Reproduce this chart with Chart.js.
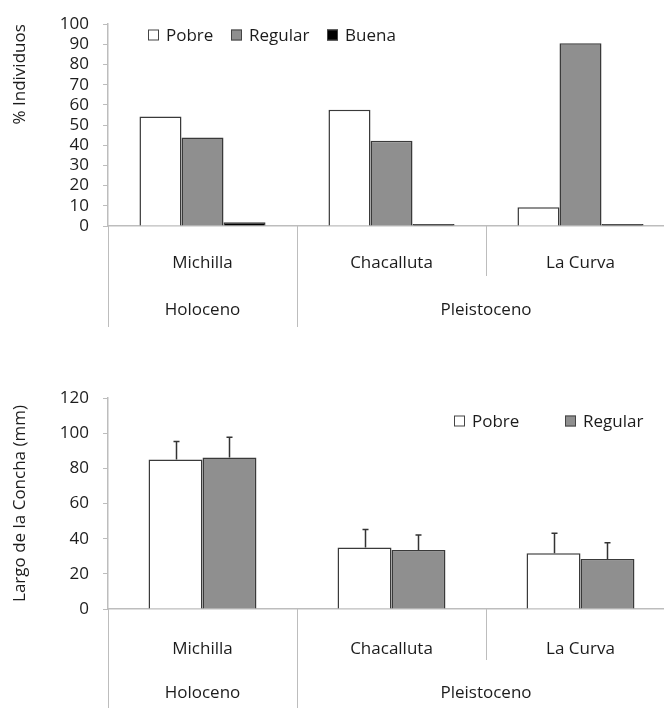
<!DOCTYPE html>
<html lang="es">
<head>
<meta charset="utf-8">
<title>Condición y largo de la concha por localidad</title>
<script src="https://cdn.jsdelivr.net/npm/chart.js@4.4.1/dist/chart.umd.min.js"></script>
<style>
  html, body { margin: 0; padding: 0; background: #ffffff; overflow: hidden; }
  body { width: 664px; height: 708px; position: relative; }
  .panel { position: absolute; left: 0; }
  #panelA { top: 0; }
  #panelB { top: 354px; }
</style>
</head>
<body>
<div class="panel" id="panelA"><canvas id="condicion" width="680" height="354"></canvas></div>
<div class="panel" id="panelB"><canvas id="largo" width="680" height="354"></canvas></div>
<script>
// Localidades y periodos geológicos
const localidades = ['Michilla', 'Chacalluta', 'La Curva'];
const periodos = ['Holoceno', 'Pleistoceno'];
const localidadesPorPeriodo = [1, 2];

// % de individuos por condición
const pctPobre = [54.3, 57.6, 9.3];
const pctRegular = [43.9, 42.2, 90.5];
const pctBuena = [1.8, 0.2, 0.2];

// Largo medio de la concha (mm) y su desviación
const largoPobre = [85.0, 35.0, 31.7];
const largoPobreDE = [10.2, 10.2, 11.4];
const largoRegular = [86.1, 33.6, 28.4];
const largoRegularDE = [11.6, 8.5, 9.3];

// Marcas de los ejes
const ticksPct = [0, 10, 20, 30, 40, 50, 60, 70, 80, 90, 100];
const ticksLargo = [0, 20, 40, 60, 80, 100, 120];

const FONT = '"Open Sans", "DejaVu Sans", sans-serif';
const TEXT = '#1c1c1c';
const AXIS = '#bdbdbd';
const EDGE = '#3a3a3a';
const WHITE = '#ffffff';
const GREY = '#8f8f8f';
const BLACK = '#000000';

// Etiquetas de periodo y líneas divisorias bajo el eje x
const periodAxis = {
  id: 'periodAxis',
  afterDraw(chart, args, opts) {
    const x = chart.scales.x;
    const ctx = chart.ctx;
    const axisY = chart.chartArea.bottom;
    const n = x.getLabels().length;
    const half = (x.getPixelForValue(1) - x.getPixelForValue(0)) / 2;
    const edgeAt = i => x.getPixelForValue(i) - half;
    const groupEdges = [0];
    localidadesPorPeriodo.forEach(c => groupEdges.push(groupEdges[groupEdges.length - 1] + c));
    ctx.save();
    ctx.strokeStyle = AXIS;
    ctx.lineWidth = 1;
    for (let i = 0; i <= n; i++) {
      const px = Math.round(edgeAt(i)) + 0.5;
      const len = groupEdges.includes(i) ? opts.longLine : opts.shortLine;
      ctx.beginPath();
      ctx.moveTo(px, axisY);
      ctx.lineTo(px, axisY + len);
      ctx.stroke();
    }
    ctx.fillStyle = TEXT;
    ctx.font = '17px ' + FONT;
    ctx.textAlign = 'center';
    ctx.textBaseline = 'middle';
    periodos.forEach((p, g) => {
      const cx = (edgeAt(groupEdges[g]) + edgeAt(groupEdges[g + 1])) / 2;
      ctx.fillText(p, cx, axisY + opts.labelOffset);
    });
    ctx.restore();
  }
};

// Leyenda con cuadros, colocada dentro del área del gráfico
const boxLegend = {
  id: 'boxLegend',
  afterDraw(chart, args, opts) {
    const ctx = chart.ctx;
    ctx.save();
    ctx.font = '17px ' + FONT;
    ctx.textBaseline = 'middle';
    ctx.textAlign = 'left';
    chart.data.datasets.forEach((ds, i) => {
      const bx = opts.xs[i];
      const by = opts.y - opts.box / 2;
      ctx.fillStyle = ds.backgroundColor;
      ctx.fillRect(bx, by, opts.box, opts.box);
      ctx.strokeStyle = '#444444';
      ctx.lineWidth = 1;
      ctx.strokeRect(bx + 0.5, by + 0.5, opts.box - 1, opts.box - 1);
      ctx.fillStyle = TEXT;
      ctx.fillText(ds.label, bx + opts.box + 7, opts.y + 1);
    });
    ctx.restore();
  }
};

// Barras de error (solo hacia arriba)
const errorBars = {
  id: 'errorBars',
  afterDatasetsDraw(chart) {
    const ctx = chart.ctx;
    const y = chart.scales.y;
    ctx.save();
    ctx.strokeStyle = '#333333';
    ctx.lineWidth = 1.5;
    chart.data.datasets.forEach((ds, di) => {
      if (!ds.errors) return;
      chart.getDatasetMeta(di).data.forEach((bar, i) => {
        const top = y.getPixelForValue(ds.data[i] + ds.errors[i]);
        const px = Math.round(bar.x) + 0.5;
        ctx.beginPath();
        ctx.moveTo(px, bar.y);
        ctx.lineTo(px, top);
        ctx.moveTo(px - 3, top);
        ctx.lineTo(px + 3, top);
        ctx.stroke();
      });
    });
    ctx.restore();
  }
};

function xAxis(height, pad) {
  return {
    type: 'category',
    offset: true,
    grid: { display: false, drawTicks: false },
    border: { display: true, color: AXIS, width: 1.5 },
    ticks: { color: TEXT, font: { family: FONT, size: 17 }, padding: pad, maxRotation: 0 },
    afterFit(scale) { scale.height = height; }
  };
}

function yAxis(max, ticks, title, align) {
  return {
    min: 0,
    max: max,
    afterBuildTicks(scale) { scale.ticks = ticks.map(v => ({ value: v })); },
    grid: { drawOnChartArea: false, tickLength: 5, color: AXIS, lineWidth: 1 },
    border: { display: true, color: AXIS, width: 1.5 },
    ticks: { color: TEXT, font: { family: FONT, size: 17 }, padding: 14, autoSkip: false },
    title: {
      display: true, text: title, color: TEXT, align: align,
      font: { family: FONT, size: 17 }, padding: { top: 10, bottom: 0 }
    },
    afterFit(scale) { scale.width = 108; }
  };
}

function bars(label, data, fill, extra) {
  return Object.assign({
    label: label,
    data: data,
    backgroundColor: fill,
    borderColor: EDGE,
    borderWidth: 1.5,
    borderSkipped: 'bottom'
  }, extra || {});
}

new Chart(document.getElementById('condicion'), {
  type: 'bar',
  data: {
    labels: localidades,
    datasets: [
      bars('Pobre', pctPobre, WHITE),
      bars('Regular', pctRegular, GREY),
      bars('Buena', pctBuena, BLACK, { minBarLength: 2 })
    ]
  },
  options: {
    responsive: false,
    animation: false,
    layout: { padding: { top: 14, right: 5, left: 0, bottom: 0 } },
    datasets: { bar: { categoryPercentage: 0.667, barPercentage: 1.0 } },
    scales: {
      x: xAxis(128, 27),
      y: yAxis(100, ticksPct, '% Individuos', 'end')
    },
    plugins: {
      legend: { display: false },
      tooltip: { enabled: false },
      periodAxis: { longLine: 101, shortLine: 50, labelOffset: 84 },
      boxLegend: { xs: [148, 231, 327], y: 35, box: 11 }
    }
  },
  plugins: [periodAxis, boxLegend]
});

new Chart(document.getElementById('largo'), {
  type: 'bar',
  data: {
    labels: localidades,
    datasets: [
      bars('Pobre', largoPobre, WHITE, { errors: largoPobreDE }),
      bars('Regular', largoRegular, GREY, { errors: largoRegularDE })
    ]
  },
  options: {
    responsive: false,
    animation: false,
    layout: { padding: { top: 44, right: 5, left: 0, bottom: 0 } },
    datasets: { bar: { categoryPercentage: 0.571, barPercentage: 1.0 } },
    scales: {
      x: xAxis(99, 30),
      y: yAxis(120, ticksLargo, 'Largo de la Concha (mm)', 'center')
    },
    plugins: {
      legend: { display: false },
      tooltip: { enabled: false },
      periodAxis: { longLine: 101, shortLine: 51, labelOffset: 84 },
      boxLegend: { xs: [454, 565], y: 67, box: 11 }
    }
  },
  plugins: [periodAxis, boxLegend, errorBars]
});
</script>
</body>
</html>
